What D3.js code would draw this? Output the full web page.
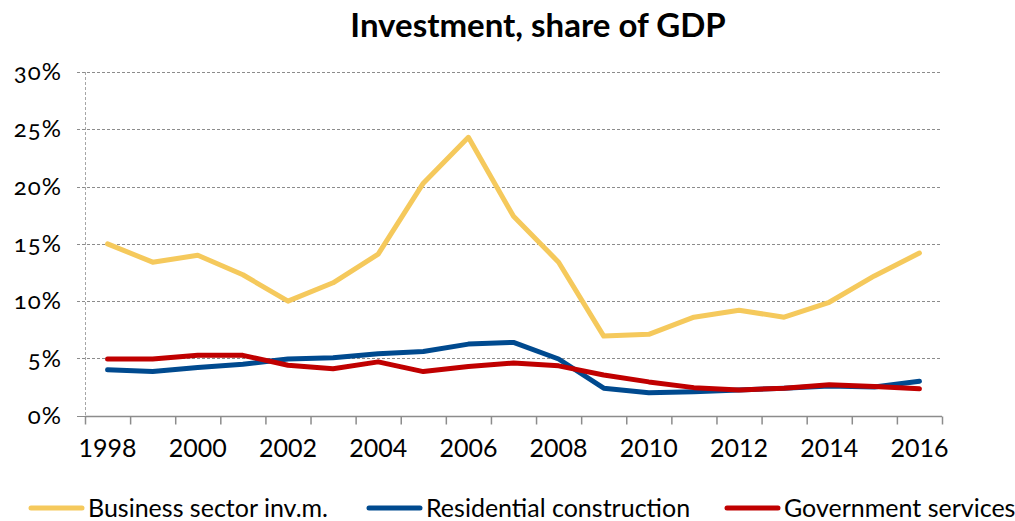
<html>
<head>
<script src="https://d3js.org/d3.v7.min.js" charset="utf-8"></script>
<style>
body { margin:0; background:#fff; font-family: Lato, "Open Sans", sans-serif; }
svg text { fill:#000; }
</style>
</head>
<body>
<svg width="1015" height="521" id="viz"></svg>
<script>
var years = d3.range(1998, 2017);
var business = [15.0,13.4,14.0,12.3,10.0,11.6,14.1,20.3,24.3,17.4,13.4,6.95,7.1,8.6,9.2,8.6,9.9,12.2,14.2];
var residential = [4.0,3.85,4.2,4.5,4.95,5.05,5.4,5.6,6.25,6.4,4.95,2.4,2.0,2.1,2.25,2.4,2.6,2.5,3.0];
var government = [4.95,4.95,5.27,5.27,4.4,4.1,4.7,3.85,4.3,4.6,4.35,3.55,2.95,2.45,2.25,2.4,2.7,2.55,2.35];
var seriesNames = ["Business sector inv.m.","Residential construction","Government services"];
var seriesColors = ["#F5C95C","#004A8F","#C00000"];
var yTicks = [0,5,10,15,20,25,30];
var xLabelYears = [1998,2000,2002,2004,2006,2008,2010,2012,2014,2016];

var svg = d3.select("#viz");
var xScale = d3.scaleBand().domain(years).range([85,942]).padding(0);
var yScale = d3.scaleLinear().domain([0,30]).range([415.7,72]);

// title
svg.append("text").text("Investment, share of GDP")
	.attr("x",538).attr("y",37).attr("text-anchor","middle")
	.style("font-size","33px").style("font-weight","bold");

// gridlines
svg.append("g").selectAll("line").data(yTicks.filter(function(d){return d>0;})).enter().append("line")
	.attr("x1",77).attr("x2",942)
	.attr("y1",function(d){return Math.round(yScale(d))+0.5;})
	.attr("y2",function(d){return Math.round(yScale(d))+0.5;})
	.attr("stroke","#8c8c8c").attr("stroke-width",1).attr("stroke-dasharray","3,2");

// y axis (dashed)
svg.append("line").attr("x1",85.5).attr("x2",85.5).attr("y1",72).attr("y2",416)
	.attr("stroke","#a6a6a6").attr("stroke-width",1).attr("stroke-dasharray","3,2");
svg.append("line").attr("x1",77).attr("x2",85).attr("y1",416.5).attr("y2",416.5)
	.attr("stroke","#8c8c8c").attr("stroke-width",1);

// y labels
var yAxis = d3.axisLeft(yScale).tickValues(yTicks).tickFormat(function(d){return d+"%";}).tickSize(0).tickPadding(0);
var yg = svg.append("g").attr("transform","translate(62,0)").call(yAxis);
yg.select(".domain").remove();
yg.selectAll("text").style("font-size","24px").style("letter-spacing","1px")
	.style("font-family","Lato, sans-serif").style("font-variant-numeric","oldstyle-nums");

// x axis
var xg = svg.append("g").attr("transform","translate(0,416.5)");
xg.append("line").attr("x1",85).attr("x2",942).attr("y1",0).attr("y2",0).attr("stroke","#8c8c8c").attr("stroke-width",1.5);
xg.selectAll(".tk").data(years.concat([2017])).enter().append("line")
	.attr("x1",function(d){return d<2017 ? xScale(d)+0.5 : 942.5;})
	.attr("x2",function(d){return d<2017 ? xScale(d)+0.5 : 942.5;})
	.attr("y1",0).attr("y2",8).attr("stroke","#8c8c8c").attr("stroke-width",1.5);
xg.selectAll(".lbl").data(xLabelYears).enter().append("text")
	.attr("x",function(d){return xScale(d)+xScale.bandwidth()/2;})
	.attr("y",40).attr("text-anchor","middle")
	.style("font-size","25px").text(function(d){return d;});

// lines
var allSeries = [business, residential, government];
var line = d3.line()
	.x(function(d,i){return xScale(years[i])+xScale.bandwidth()/2;})
	.y(function(d){return yScale(d);});
allSeries.forEach(function(s,k){
	svg.append("path").attr("d",line(s)).attr("fill","none")
		.attr("stroke",seriesColors[k]).attr("stroke-width",5)
		.attr("stroke-linejoin","round").attr("stroke-linecap","round");
});

// legend
var legendX = [29,367,725];
var lg = svg.append("g");
seriesNames.forEach(function(n,k){
	lg.append("line").attr("x1",legendX[k]+2).attr("x2",legendX[k]+53).attr("y1",508).attr("y2",508)
		.attr("stroke",seriesColors[k]).attr("stroke-width",5).attr("stroke-linecap","round");
	lg.append("text").attr("x",legendX[k]+59).attr("y",517).text(n)
		.style("font-size","25px");
});
</script>
</body>
</html>
